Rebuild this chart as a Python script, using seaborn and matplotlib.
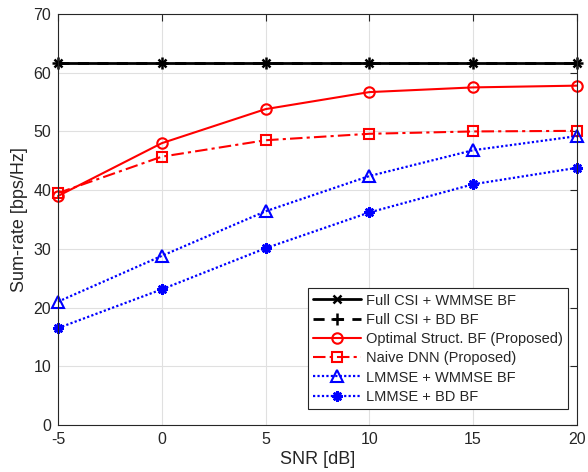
import matplotlib
matplotlib.use("Agg")
import matplotlib.pyplot as plt
import seaborn as sns
import pandas as pd
import numpy as np

snr = [-5, 0, 5, 10, 15, 20]
full_wmmse = [61.7, 61.7, 61.7, 61.7, 61.7, 61.7]
full_bd = [61.7, 61.7, 61.7, 61.7, 61.7, 61.7]
optimal = [39.0, 48.0, 53.8, 56.7, 57.5, 57.8]
naive = [39.5, 45.7, 48.5, 49.6, 50.0, 50.1]
lmmse_wmmse = [21.0, 28.8, 36.4, 42.4, 46.8, 49.2]
lmmse_bd = [16.5, 23.1, 30.1, 36.2, 41.0, 43.8]
labels = ["Full CSI + WMMSE BF", "Full CSI + BD BF", "Optimal Struct. BF (Proposed)",
          "Naive DNN (Proposed)", "LMMSE + WMMSE BF", "LMMSE + BD BF"]
xticks = [-5, 0, 5, 10, 15, 20]
yticks = [0, 10, 20, 30, 40, 50, 60, 70]

sns.set_theme(style="white")
plt.rcParams['font.family'] = ['Liberation Sans', 'DejaVu Sans']
plt.rcParams['axes.unicode_minus'] = False

fig = plt.figure(figsize=(5.88, 4.72), dpi=100)
ax = fig.add_axes([0.0986, 0.0996, 0.8824, 0.8707])

series = [full_wmmse, full_bd, optimal, naive, lmmse_wmmse, lmmse_bd]
styles = [
    dict(color="black", linestyle="-", marker="x", markersize=6, linewidth=2.0, mew=1.8),
    dict(color="black", linestyle=(0, (4, 3)), marker="+", markersize=9, linewidth=2.0, mew=1.8),
    dict(color="red", linestyle="-", marker="o", markersize=7.5, linewidth=1.5, mew=1.5),
    dict(color="red", linestyle=(0, (6, 2, 1.5, 2)), marker="s", markersize=6.5, linewidth=1.5, mew=1.5),
    dict(color="blue", linestyle=(0, (1, 1)), marker="^", markersize=8.5, linewidth=1.6, mew=1.5),
    dict(color="blue", linestyle=(0, (1, 1)), marker=(8, 2, 0), markersize=7.5, linewidth=1.6, mew=1.8),
]
for vals, lab, st in zip(series, labels, styles):
    df = pd.DataFrame({"snr": snr, "rate": vals})
    sns.lineplot(data=df, x="snr", y="rate", ax=ax, label=lab, clip_on=False,
                 mfc="none", mec=st["color"], **st)

ax.set_xlim(-5, 20)
ax.set_ylim(0, 70)
ax.set_xticks(xticks)
ax.set_yticks(yticks)
ax.grid(True, color="#e0e0e0", linewidth=0.8)
ax.tick_params(direction="in", length=5, top=True, right=True, labelsize=11.5, colors="#262626",
               width=0.8, pad=5)
for sp in ax.spines.values():
    sp.set_color("#262626")
    sp.set_linewidth(0.8)
ax.set_xlabel("SNR [dB]", fontsize=13, color="#262626", labelpad=3)
ax.set_ylabel("Sum-rate [bps/Hz]", fontsize=13, color="#262626", labelpad=4)
leg = ax.legend(loc="lower right", bbox_to_anchor=(0.983, 0.038), fontsize=10.5, frameon=True,
                fancybox=False, edgecolor="#262626", framealpha=1, handlelength=3.3,
                handletextpad=0.3, borderpad=0.38, labelspacing=0.36, borderaxespad=0.0)
leg.get_frame().set_linewidth(0.8)
fig.savefig("out.png", dpi=100)
